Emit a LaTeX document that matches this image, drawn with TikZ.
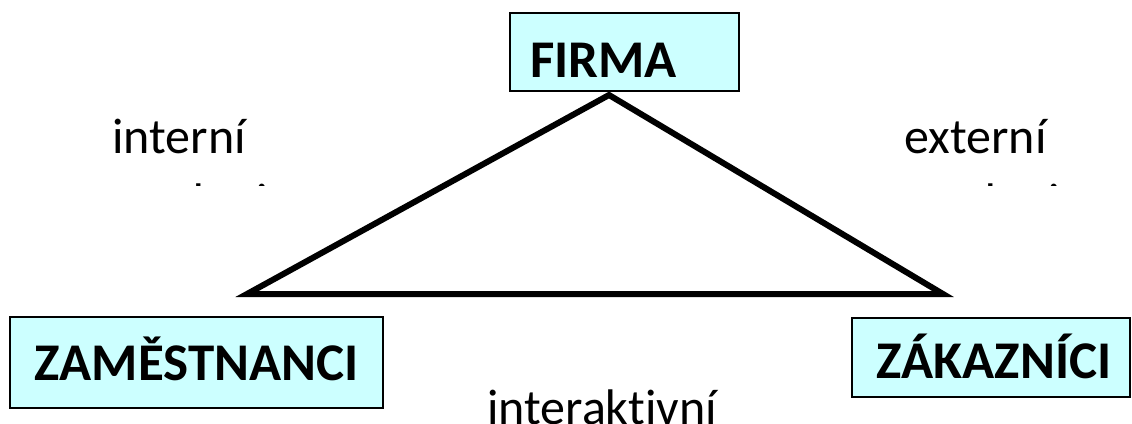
\documentclass[tikz,border=0pt]{standalone}
\usepackage{fontspec}
\setmainfont{Carlito}[Ligatures=NoCommon]
\usepackage{xcolor}
\usetikzlibrary{positioning}

\definecolor{boxcyan}{RGB}{204,255,255}

\begin{document}
\begin{tikzpicture}[
    x=1pt, y=-1pt,
    box/.style={rectangle, draw=black, line width=1.5pt, fill=boxcyan,
                inner sep=0pt, text depth=0pt, font=\fontsize{53}{64}\selectfont\bfseries},
    lbl/.style={anchor=base west, inner sep=0pt, font=\fontsize{50}{61}\selectfont},
    side/.style={line width=6pt, line join=miter},
  ]
  \useasboundingbox (0,0) rectangle (1132,423);

  % trojuhelnik pod ramecky
  \coordinate (apex) at (609,95);
  \coordinate (cornerL) at (247,294);
  \coordinate (cornerR) at (943,294);
  \draw[side] (apex) -- (cornerL) -- (cornerR) -- cycle;

  \node[box, minimum width=229pt, minimum height=78pt, text height=50pt,
        inner xsep=20pt, text width=189pt, align=left] (firma) at (624.5,52) {FIRMA};
  \node[box, minimum width=373pt, minimum height=91pt, text height=36pt] (zam) at (196.5,362.5) {ZAMĚSTNANCI};
  \node[box, minimum width=278pt, minimum height=79pt, text height=41pt] (zak) at (991,357.5) {\hspace*{6pt}ZÁKAZNÍCI};

  \node[lbl] (intl) at (112,153) {interní};
  \node[lbl] (extl) at (904,153) {externí};
  \node[lbl] (inal) at (487,424) {interaktivní};

  % druhy radek je oriznuty
  \begin{scope}
    \clip (0,0) rectangle (1132,185.5);
    \node[lbl] (intm) at (112,218) {marketing};
    \node[lbl] (extm) at (904,218) {marketing};
  \end{scope}
\end{tikzpicture}
\end{document}
